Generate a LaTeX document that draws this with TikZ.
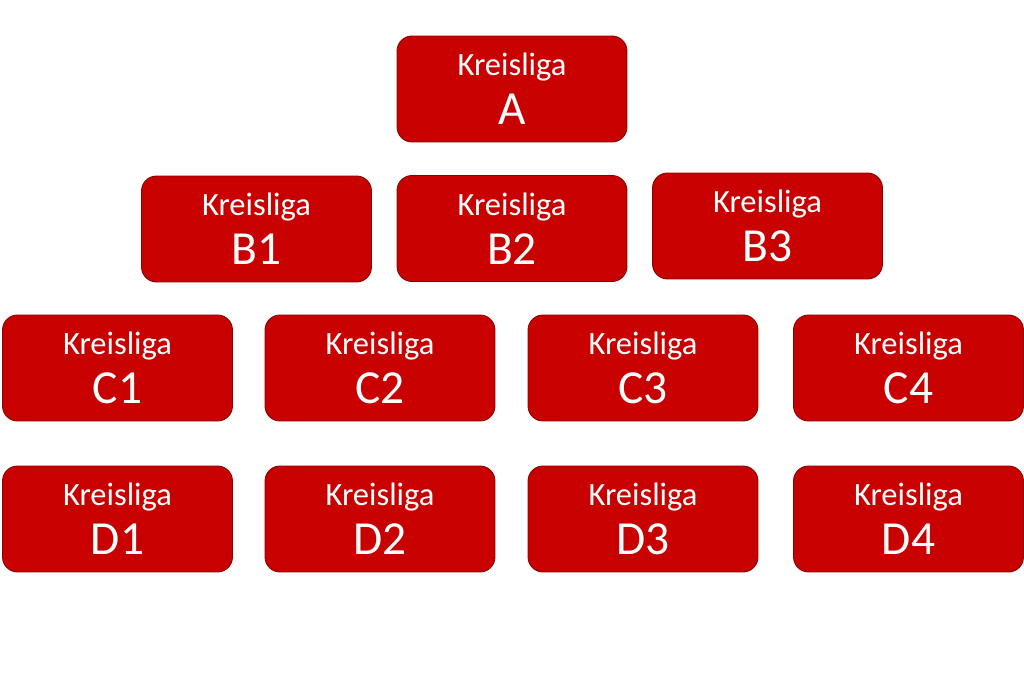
\documentclass[tikz,border=0pt]{standalone}
\usepackage{fontspec}
\setmainfont{Carlito}
\definecolor{ligared}{HTML}{C80000}
\definecolor{ligaedge}{HTML}{8A0000}
\begin{document}
\begin{tikzpicture}[x=0.02cm, y=-0.02cm,
    liga/.style={rectangle, rounded corners=0.3cm, draw=ligaedge, line width=0.5pt,
      fill=ligared, text=white, minimum width=4.6cm, minimum height=2.12cm,
      inner sep=0pt, align=center, font=\fontsize{18.5}{28}\selectfont}]
    \useasboundingbox (0,0) rectangle (1024,682);
    \newcommand{\lname}[1]{Kreisliga\\\fontsize{27}{28}\selectfont #1}
    \begin{scope}[every node/.style={liga}]
      \node (A) at (512, 89) {\lname{A}};
      \node (B1) at (256.5, 229) {\lname{B1}}; \node (B2) at (512, 228.5)
      {\lname{B2}}; \node (B3) at (767.5, 226) {\lname{B3}};
      \node (C1) at (117.5, 368) {\lname{C1}}; \node (C2) at (380, 368)
      {\lname{C2}}; \node (C3) at (643, 368) {\lname{C3}}; \node (C4) at
      (908.5, 368) {\lname{C4}};
      \node (D1) at (117.5, 519) {\lname{D1}}; \node (D2) at (380, 519)
      {\lname{D2}}; \node (D3) at (643, 519) {\lname{D3}}; \node (D4) at
      (908.5, 519) {\lname{D4}};
    \end{scope}
  \end{tikzpicture}
\end{document}
